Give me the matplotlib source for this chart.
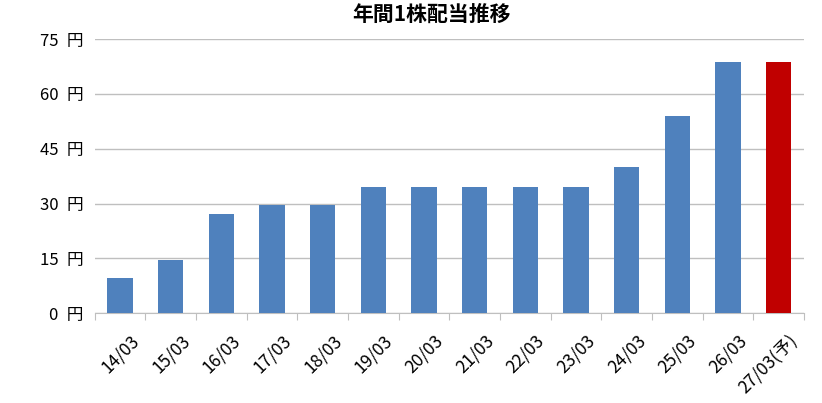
import matplotlib
matplotlib.use("Agg")
import matplotlib.pyplot as plt

plt.rcParams['font.family'] = ['Noto Sans CJK JP', 'DejaVu Sans']

categories = ["14/03","15/03","16/03","17/03","18/03","19/03","20/03","21/03","22/03","23/03","24/03","25/03","26/03","27/03(予)"]
values = [9.6, 14.6, 27, 29.7, 29.7, 34.6, 34.6, 34.6, 34.6, 34.6, 40, 54, 68.8, 68.8]
colors = ["#4F81BD"]*13 + ["#C00000"]
yticks = [0, 15, 30, 45, 60, 75]

fig = plt.figure(figsize=(8.22, 4.03), dpi=100)
ax = fig.add_axes([0.115, 0.223, 0.863, 0.68])
x = range(len(categories))
ax.bar(x, values, width=0.5, color=colors, zorder=3)
ax.set_xlim(-0.5, len(categories)-0.5)
ax.set_ylim(0, 75)
ax.set_yticks(yticks)
ax.set_yticklabels([f"{v}\u2002円" for v in yticks], fontsize=12)
ax.yaxis.grid(True, color="#BFBFBF", linewidth=1, zorder=0)
ax.set_xticks([i+0.5 for i in range(-1, len(categories))], minor=False)
ax.set_xticklabels([])
ax.tick_params(axis='x', length=5, color="#BFBFBF")
ax.tick_params(axis='y', length=0, pad=8)
for i, c in enumerate(categories):
    ax.text(i+0.2, -5, c, rotation=45, ha='right', va='top', fontsize=12.5, rotation_mode='anchor')
for s in ['top', 'right', 'left']:
    ax.spines[s].set_visible(False)
ax.spines['bottom'].set_color("#BFBFBF")
fig.text(0.525, 0.99, "年間1株配当推移", ha='center', va='top', fontsize=15, fontweight='bold')
fig.savefig("out.png", dpi=100)
